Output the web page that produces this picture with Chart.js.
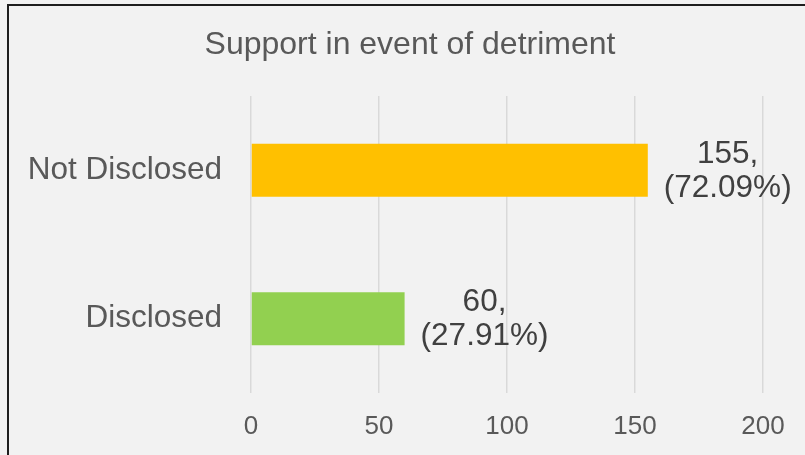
<!DOCTYPE html>
<html>
<head>
<meta charset="utf-8">
<script src="https://cdn.jsdelivr.net/npm/chart.js@4.4.1/dist/chart.umd.min.js"></script>
<style>
  html, body { margin: 0; padding: 0; background: #f2f2f2; overflow: hidden; }
  #frame {
    position: absolute; left: 7px; top: 4px; width: 900px; height: 500px;
    border: 2px solid #1e1e1e;
  }
  #wrap { position: absolute; left: 0; top: 0; width: 805px; height: 455px; }
</style>
</head>
<body>
<div id="frame"></div>
<div id="wrap"><canvas id="chart" width="805" height="455"></canvas></div>
<script>
// Support in event of detriment
const chartTitle = 'Support in event of detriment';
const categories = ['Not Disclosed', 'Disclosed'];
const counts = [155, 60];
const barColors = ['#FFC000', '#92D050'];
const xTicks = [0, 50, 100, 150, 200];

const total = counts.reduce((a, b) => a + b, 0);
const FONT = '"Liberation Sans", Arial, sans-serif';

// Title centred on the whole frame rather than the plot
const frameTitle = {
    id: 'frameTitle',
    afterDraw(chart) {
        const ctx = chart.ctx;
        ctx.save();
        ctx.font = '32px ' + FONT;
        ctx.fillStyle = '#595959';
        ctx.textAlign = 'center';
        ctx.textBaseline = 'middle';
        ctx.fillText(chartTitle, 410, 45);
        ctx.restore();
    }
};

// Count + share label to the right of each bar
const valueLabels = {
    id: 'valueLabels',
    afterDatasetsDraw(chart) {
        const ctx = chart.ctx;
        const meta = chart.getDatasetMeta(0);
        ctx.save();
        ctx.font = '31.5px ' + FONT;
        ctx.fillStyle = '#404040';
        ctx.textAlign = 'center';
        ctx.textBaseline = 'middle';
        meta.data.forEach((bar, i) => {
            const v = counts[i];
            const lines = [v + ',', '(' + (v / total * 100).toFixed(2) + '%)'];
            const w = Math.max(...lines.map(t => ctx.measureText(t).width));
            const cx = bar.x + 16 + w / 2;
            ctx.fillText(lines[0], cx, bar.y - 16);
            ctx.fillText(lines[1], cx, bar.y + 18);
        });
        ctx.restore();
    }
};

const ctx = document.getElementById('chart').getContext('2d');
new Chart(ctx, {
    type: 'bar',
    data: {
        labels: categories,
        datasets: [{
            data: counts,
            backgroundColor: barColors,
            borderWidth: 0,
            categoryPercentage: 1,
            barPercentage: 0.357
        }]
    },
    options: {
        indexAxis: 'y',
        responsive: false,
        animation: false,
        layout: { padding: { left: 0, right: 42, top: 96, bottom: 0 } },
        plugins: {
            legend: { display: false },
            tooltip: { enabled: false },
            title: { display: false }
        },
        scales: {
            x: {
                min: 0,
                max: 200,
                afterBuildTicks(scale) {
                    scale.ticks = xTicks.map(v => ({ value: v }));
                },
                afterFit(scale) { scale.height = 62; },
                grid: { color: '#d9d9d9', lineWidth: 1.5, drawTicks: false },
                border: { display: false },
                ticks: {
                    color: '#595959',
                    padding: 18,
                    font: { family: FONT, size: 26 }
                }
            },
            y: {
                afterFit(scale) { scale.width = 251; },
                grid: { display: false, drawTicks: false },
                border: { display: false },
                ticks: {
                    color: '#595959',
                    padding: 29,
                    font: { family: FONT, size: 31.5 }
                }
            }
        }
    },
    plugins: [valueLabels, frameTitle]
});
</script>
</body>
</html>
